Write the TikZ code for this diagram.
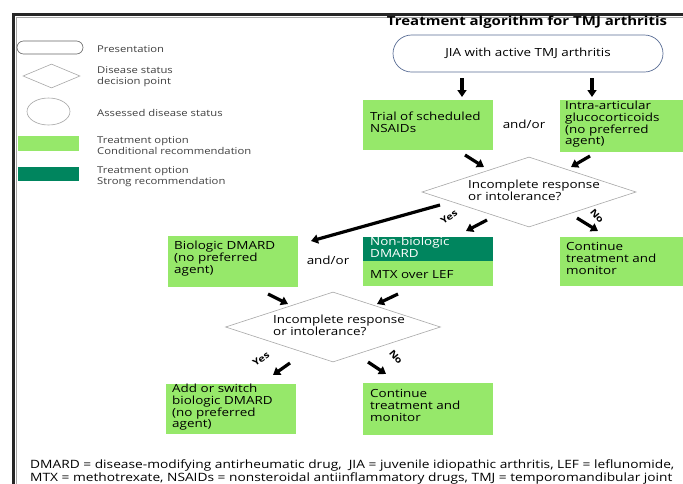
\documentclass[tikz,border=0pt]{standalone}
\usepackage{fontspec}
\setmainfont{Open Sans}[FakeStretch=1.2]
\usetikzlibrary{shapes.geometric,shapes.misc,arrows.meta}
\definecolor{lgreen}{HTML}{96E86A}
\definecolor{dgreen}{HTML}{00855E}
\definecolor{ovalc}{HTML}{5A6E96}
\definecolor{dgray}{HTML}{A8A8A8}
\tikzset{
  boxtxt/.style={font=\fontsize{11.2}{11.9}\selectfont},
  gbox/.style={fill=lgreen, draw=none, minimum width=130pt, inner sep=0pt},
  btext/.style={boxtxt, align=left, anchor=north west, inner sep=0pt},
  thickarrow/.style={line width=3.2pt, -{Triangle[length=7pt,width=9pt]}},
  legtxt/.style={font=\fontsize{9.4}{11}\selectfont, align=left, anchor=west, inner sep=0pt, text=black!75},
  dec/.style={diamond, draw=dgray, line width=0.6pt, aspect=3.06, inner sep=0pt},
  lab/.style={font=\fontsize{9}{10}\selectfont\bfseries, inner sep=0pt},
  fntxt/.style={font=\fontsize{11.45}{13}\selectfont, anchor=west, inner sep=0pt}
}
\begin{document}
\begin{tikzpicture}[x=1pt,y=-1pt]
\useasboundingbox (0,0) rectangle (683,483);
\fill[white] (0,0) rectangle (683,483);
\clip (0,0) rectangle (683,483);
% frame
\draw[line width=3pt, black!85] (13,490) -- (13,14) -- (690,14);
\draw[line width=0.8pt, black!35] (16,490) -- (16,17) -- (690,17);

% legend
\node[rounded rectangle, draw=black!60, line width=0.6pt, minimum width=66pt, minimum height=13pt, inner sep=0pt] (lpres) at (50,47.5) {};
\node[legtxt] (lpresT) at (97,49) {Presentation};
\node[diamond, draw=dgray, line width=0.6pt, minimum width=57pt, minimum height=24pt, aspect=2.4, inner sep=0pt] (ldec) at (51.5,76) {};
\node[legtxt] (ldecT) at (97,77) {Disease status\\decision point};
\node[ellipse, draw=dgray, line width=0.6pt, minimum width=43pt, minimum height=27pt, inner sep=0pt] (lass) at (48.5,111.5) {};
\node[legtxt] (lassT) at (97,113) {Assessed disease status};
\node[fill=lgreen, minimum width=61pt, minimum height=15pt, inner sep=0pt] (lcond) at (48.5,143.5) {};
\node[legtxt] (lcondT) at (97,146) {Treatment option\\Conditional recommendation};
\node[fill=dgreen, minimum width=61pt, minimum height=14pt, inner sep=0pt] (lstr) at (48.5,174) {};
\node[legtxt] (lstrT) at (97,176.5) {Treatment option\\Strong recommendation};

% title
\node[font=\fontsize{12.5}{14}\selectfont\bfseries, inner sep=0pt] (title) at (527,22.5) {Treatment algorithm for TMJ arthritis};

% presentation
\node[rounded rectangle, draw=ovalc, line width=0.7pt, minimum width=270pt, minimum height=37pt, inner sep=0pt, boxtxt] (pres) at (528,53.5) {JIA with active TMJ arthritis};

% first-line boxes
\node[gbox, minimum height=50pt] (nsaid) at (428,125) {};
\node[btext] (nsaidT) at (370,111.5) {Trial of scheduled\\NSAIDs};
\node[gbox, minimum height=52pt] (intra) at (625,126) {};
\node[btext] (intraT) at (565,100.5) {Intra-articular\\glucocorticoids\\(no preferred\\agent)};
\node[boxtxt, inner sep=0pt] (andor1) at (524,124) {and/or};

% decision 1
\node[dec, minimum width=214pt, minimum height=70pt] (d1) at (529,192) {};
\node[btext] (d1T) at (468,179.5) {Incomplete response\\or intolerance?};

% second-line boxes
\node[gbox, minimum height=51pt] (bio) at (233,261.5) {};
\node[btext] (bioT) at (174,241) {Biologic DMARD\\(no preferred\\agent)};
\node[boxtxt, inner sep=0pt] (andor2) at (328,260) {and/or};
\node[fill=dgreen, minimum width=130pt, minimum height=24pt, inner sep=0pt] (nbtop) at (428,249) {};
\node[gbox, minimum height=25pt] (nbbot) at (428,273.5) {};
\node[btext, text=white] (nbT) at (370,236.5) {Non-biologic\\DMARD};
\node[boxtxt, inner sep=0pt, anchor=west] (mtx) at (370,274.5) {MTX over LEF};
\node[gbox, minimum height=49pt] (cont1) at (624.5,261.5) {};
\node[btext] (cont1T) at (566,242) {Continue\\treatment and\\monitor};

% decision 2
\node[dec, minimum width=215pt, minimum height=70pt] (d2) at (333,327) {};
\node[btext] (d2T) at (273,315) {Incomplete response\\or intolerance?};

% third-line boxes
\node[gbox, minimum height=50pt] (add) at (231,409) {};
\node[btext] (addT) at (172,383.5) {Add or switch\\biologic DMARD\\(no preferred\\agent)};
\node[gbox, minimum height=52pt] (cont2) at (428,409) {};
\node[btext] (cont2T) at (370,389.5) {Continue\\treatment and\\monitor};

% arrow coordinates
\coordinate (a1s) at (462,78);   \coordinate (a1e) at (462,97);
\coordinate (a2s) at (592,78);   \coordinate (a2e) at (592,97);
\coordinate (a3s) at (465,155);  \coordinate (a3e) at (484,167);
\coordinate (a4s) at (590,156);  \coordinate (a4e) at (571,167);
\coordinate (a5s) at (440,205);  \coordinate (a5e) at (311,241);
\coordinate (a6s) at (487,220);  \coordinate (a6e) at (466,231);
\coordinate (a7s) at (577,218);  \coordinate (a7e) at (598,231);
\coordinate (a8s) at (268,294);  \coordinate (a8e) at (288,304);
\coordinate (a9s) at (398,294);  \coordinate (a9e) at (377,304);
\coordinate (a10s) at (290,363); \coordinate (a10e) at (273,375);
\coordinate (a11s) at (368,362); \coordinate (a11e) at (386,374);
\foreach \i in {1,...,11} {\draw[thickarrow] (a\i s) -- (a\i e);}

% labels
\node[lab, rotate=35] (yes1) at (449,217) {Yes};
\node[lab, rotate=-50] (no1) at (597,216) {No};
\node[lab, rotate=35] (yes2) at (261,359) {Yes};
\node[lab, rotate=-50] (no2) at (396,357) {No};

% footnote
\node[fntxt] (fn1) at (30,465) {DMARD = disease-modifying antirheumatic drug,\ \ JIA = juvenile idiopathic arthritis, LEF = leflunomide,};
\node[fntxt] (fn2) at (30,478) {MTX = methotrexate, NSAIDs = nonsteroidal antiinflammatory drugs, TMJ = temporomandibular joint};
\end{tikzpicture}
\end{document}
